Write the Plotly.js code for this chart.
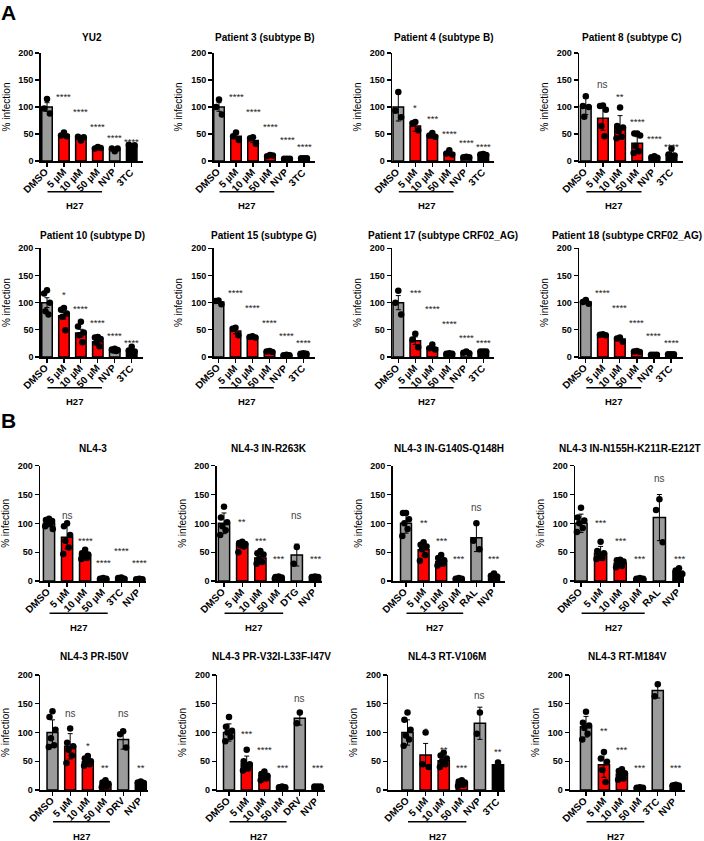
<!DOCTYPE html>
<html><head><meta charset="utf-8">
<script src="https://cdn.plot.ly/plotly-3.0.1.min.js"></script>
<style>html,body{margin:0;padding:0;background:#fff}#chart{width:704px;height:841px}</style>
</head><body><div id="chart"></div>
<script>
// ---------------- DATA ----------------
const panelTitles = [
  'YU2','Patient 3 (subtype B)','Patient 4 (subtype B)','Patient 8 (subtype C)',
  'Patient 10 (subtype D)','Patient 15 (subtype G)','Patient 17 (subtype CRF02_AG)','Patient 18 (subtype CRF02_AG)',
  'NL4-3','NL4-3 IN-R263K','NL4-3 IN-G140S-Q148H','NL4-3 IN-N155H-K211R-E212T',
  'NL4-3 PR-I50V','NL4-3 PR-V32I-L33F-I47V','NL4-3 RT-V106M','NL4-3 RT-M184V'
];
const h27Doses = ['5 µM','10 µM','50 µM'];
const controlLabels = [
  ['NVP','3TC'],['NVP','3TC'],['NVP','3TC'],['NVP','3TC'],
  ['NVP','3TC'],['NVP','3TC'],['NVP','3TC'],['NVP','3TC'],
  ['3TC','NVP'],['DTG','NVP'],['RAL','NVP'],['RAL','NVP'],
  ['DRV','NVP'],['DRV','NVP'],['NVP','3TC'],['3TC','NVP']
];
// bar fill: g = grey control, r = H27, k = black control
const barKinds = [
  'grrrgk','grrrgk','grrrgk','grrrgk','grrrgk','grrrgk','grrrgk','grrrgk',
  'grrrkk','grrrgk','grrrgk','grrrgk','grrrgk','grrrgk','grrrgk','grrrgk'
];
const means = [
  [100,48,43,24,21,29],
  [100,46,38,10,4,5],
  [100,65,47,15,7,12],
  [101,79,62,33,7,12],
  [100,76,44,28,13,12],
  [101,48,37,10,3,6],
  [100,30,17,6,8,10],
  [101,41,33,10,4,5],
  [100,76,45,4,5,3],
  [100,64,40,6,45,7],
  [100,54,34,4,75,9],
  [100,48,31,4,110,17],
  [100,76,49,10,88,12],
  [100,46,25,5,125,6],
  [100,61,51,12,116,44],
  [110,44,28,4,173,8]
];
const errors = [
  [8,3,3,1.5,2.5,1.5],
  [8,5,4,1,0.5,0.5],
  [26,10,5,4,1,1.5],
  [15,22,22,12,2,5],
  [9,6,7,4,1,2.5],
  [2,5,1,1,0.5,0.5],
  [13,7,3,1,1.5,0.5],
  [2,1,3,1,0.5,0.5],
  [6,20,6,1,1,0.5],
  [18,6,9,2,19,1],
  [17,10,7,1,24,3],
  [16,12,6,1,40,5],
  [22,22,8,4,17,2],
  [15,13,6,1,12,0.5],
  [22,20,10,3,28,6],
  [18,22,7,1,13,1]
];
const points = [
  [[115,97,88],[53,47,46],[38,45,44],[26,23,24],[18,23,23],[28,30,29]],
  [[114,100,86],[53,46,39],[44,42,32],[11,9,10],[4,4,4],[5,5,5]],
  [[128,93,81],[72,70,57],[52,47,45],[20,14,12],[8,7,7],[13,12,11]],
  [[120,102,100,82],[103,102,95,65,46],[99,65,62,55,45,42],[51,51,47,28,18,15],[9,7,6,5],[23,12,10,8]],
  [[123,117,100,84,78],[90,87,80,74,49],[65,56,45,40,27],[37,36,33,26,20],[15,14,13,12,11],[19,12,10,8,8]],
  [[104,103,97],[54,52,40],[38,37,36],[11,10,9],[4,3,3],[7,6,6]],
  [[122,100,78],[43,32,18],[23,16,14],[7,6,6],[10,8,7],[10,10,10]],
  [[105,101,98],[42,41,40],[36,34,28],[11,10,9],[4,4,4],[5,5,5]],
  [[108,106,104,101,99,95,90],[100,95,80,70,58,47],[54,48,46,43,40,38],[5,4,4,3],[6,5,4],[4,3,3]],
  [[129,110,102,95,88,80],[68,66,64,62,60,50],[52,48,46,38,33,30],[8,7,6,5,4,4],[59,30],[8,7,7,6]],
  [[118,118,107,100,90,78],[67,63,60,55,45,35],[45,40,36,33,30,27],[5,4,4,3],[100,70,55],[13,9,8,7]],
  [[127,110,105,100,92,85],[68,52,48,45,40,38],[37,36,34,30,26,24],[5,4,4,3],[142,123,67],[22,18,12]],
  [[137,127,105,90,78,75],[107,82,76,70,60,47],[59,55,50,48,45,42],[17,13,11,9,7,5],[102,97,74],[15,13,12,11]],
  [[127,110,103,100,92,85],[70,50,45,42,38,34],[32,28,25,23,20,17],[6,5,5,4],[135,116],[6,6,6]],
  [[135,122,105,95,88,77],[100,45,40],[65,60,55,50,45,40],[17,15,13,11,9,7],[135,98],[48]],
  [[136,117,112,108,98,88],[66,55,49,35,14],[36,33,29,24,20,18],[5,4,4,3],[184,163],[9,8,8,8]]
];
const sigLabels = [
  ['****','****','****','****','****'],
  ['****','****','****','****','****'],
  ['*','***','****','****','****'],
  ['ns','**','****','****','****'],
  ['*','****','****','****','****'],
  ['****','****','****','****','****'],
  ['***','****','****','****','****'],
  ['****','****','****','****','****'],
  ['ns','****','****','****','****'],
  ['**','***','***','ns','***'],
  ['**','***','***','ns','***'],
  ['***','***','***','ns','***'],
  ['ns','*','**','ns','**'],
  ['***','****','***','ns','***'],
  ['*','**','***','ns','**'],
  ['**','***','***','ns','***']
];
const sigHeights = [
  [124,96,68,49,40],
  [124,96,68,45,31],
  [103,84,56,39,32],
  [142,125,77,47,31],
  [120,93,68,44,31],
  [123,96,68,44,31],
  [124,94,67,41,31],
  [124,96,68,44,31],
  [113,74,36,58,36],
  [107,74,44,113,44],
  [105,74,43,128,43],
  [106,74,43,178,43],
  [133,81,43,133,43],
  [103,75,43,159,43],
  [107,75,43,165,71],
  [107,74,43,203,43]
];
const yTicks = [0,50,100,150,200];
const treatmentName = 'H27';
const panelLetters = ['A','B'];

// ---------------- LAYOUT GEOMETRY (pixels) ----------------
const W = 704, H = 841;
const rowY = [[53,161],[248.3,357],[465.7,581],[675,790]];
const titleY = [38,235,448,656.7];
const lineY = [191.7,387.7,613.3,821.7];
const h27Y = [205,401.5,627.3,836.7];
// [axis left, axis right, first bar centre, last bar centre]
const panelX = [
  [40.7,143.3,47,131.7],[213.5,315,219,304],[392,494,398.3,483.3],[579,683,585.8,671.5],
  [40.7,143.3,47,131.7],[213.5,315,218.5,303.5],[392,494,398.3,483.3],[579,683,585.8,671],
  [40,145.5,49,139.3],[216.7,321.7,224,315],[392.7,505,406,494],[575,684,581,679],
  [40,148,52.5,140.8],[217.3,325,229,317.5],[388.3,505,407.5,498],[570,685,586,675.7]
];
const titleCentreOverride = {7: 627};
const colorMap = {g:'#9b9b9b', r:'#ff0000', k:'#000000'};
const FONT = 'Liberation Sans, Arial, sans-serif';
const jitter = [0,-0.17,0.17,-0.09,0.09,-0.21,0.21];

const traces = [];
const layout = {
  width: W, height: H, margin:{l:0,r:0,t:0,b:0},
  paper_bgcolor:'#fff', plot_bgcolor:'rgba(0,0,0,0)',
  showlegend:false,
  font:{family:FONT, color:'#000'},
  annotations:[], shapes:[]
};

for (let i=0;i<16;i++){
  const n = i+1, sfx = n===1?'':String(n);
  const xa = 'x'+sfx, ya = 'y'+sfx;
  const row = Math.floor(i/4);
  const [ax0, ax1, c0, c5] = panelX[i];
  const sp = (c5-c0)/5;
  const lo = (ax0-c0)/sp, hi = 5 + (ax1-c5)/sp;
  const cats = ['DMSO'].concat(h27Doses, controlLabels[i]);
  const cols = barKinds[i].split('').map(k=>colorMap[k]);

  traces.push({
    type:'bar', x:[0,1,2,3,4,5], y:means[i], xaxis:xa, yaxis:ya, width:0.62,
    marker:{color:cols, line:{color:'#000', width:1.5}},
    error_y:{type:'data', array:errors[i], visible:true, color:'#000', thickness:1, width:2.5},
    hoverinfo:'skip'
  });
  const px=[], py=[];
  points[i].forEach((arr,c)=>arr.forEach((v,k)=>{ px.push(c + jitter[k%jitter.length]); py.push(v); }));
  traces.push({
    type:'scatter', mode:'markers', x:px, y:py, xaxis:xa, yaxis:ya,
    marker:{color:'#000', size:6.5}, hoverinfo:'skip', cliponaxis:false
  });

  layout['xaxis'+sfx] = {
    domain:[ax0/W, ax1/W], range:[lo,hi], anchor:ya,
    tickmode:'array', tickvals:[0,1,2,3,4,5], showticklabels:false,
    ticks:'outside', ticklen:4, tickwidth:1.2, tickcolor:'#000',
    showline:true, linewidth:1.5, linecolor:'#000', showgrid:false, zeroline:false,
    fixedrange:true
  };
  layout['yaxis'+sfx] = {
    domain:[1-rowY[row][1]/H, 1-rowY[row][0]/H], range:[0,200], anchor:xa,
    tickmode:'array', tickvals:yTicks, ticktext:yTicks.map(v=>'<b>'+v+'</b>'),
    ticks:'outside', ticklen:4, tickwidth:1.2, tickcolor:'#000',
    showline:true, linewidth:1.5, linecolor:'#000', showgrid:false, zeroline:false,
    tickfont:{family:FONT, size:9, color:'#000'},
    title:{text:'% infection', font:{family:FONT, size:10, color:'#000'}, standoff:6},
    fixedrange:true
  };

  // rotated category labels
  cats.forEach((c,k)=>{
    layout.annotations.push({
      xref:xa, yref:'paper', x:k, y:1-rowY[row][1]/H, xshift:5, yshift:-4,
      text:'<b>'+c+'</b>', textangle:-45, showarrow:false, xanchor:'right', yanchor:'top',
      borderpad:0, font:{family:FONT, size:10, color:'#000'}
    });
  });

  const tc = (titleCentreOverride[i] !== undefined) ? titleCentreOverride[i] : (ax0+ax1)/2;
  layout.annotations.push({
    xref:'paper', yref:'paper', x:tc/W, y:1-titleY[row]/H,
    text:'<b>'+panelTitles[i]+'</b>', showarrow:false, xanchor:'center', yanchor:'middle',
    font:{family:FONT, size:10, color:'#000'}
  });
  sigLabels[i].forEach((s,k)=>{
    const isNs = s==='ns';
    layout.annotations.push({
      xref:xa, yref:ya, x:k+1, y:sigHeights[i][k], text:s, showarrow:false,
      xanchor:'center', yanchor:'middle', yshift: isNs?0:-2.5,
      font:{family:FONT, size: isNs?10:9.5, color: isNs?'#444':'#222'}
    });
  });
  layout.shapes.push({
    type:'line', xref:xa, yref:'paper', x0:0.03, x1:3.25,
    y0:1-lineY[row]/H, y1:1-lineY[row]/H, line:{color:'#000', width:1.5}
  });
  layout.annotations.push({
    xref:xa, yref:'paper', x:1.64, y:1-h27Y[row]/H, text:'<b>'+treatmentName+'</b>',
    showarrow:false, xanchor:'center', yanchor:'middle',
    font:{family:FONT, size:9.5, color:'#000'}
  });
}
layout.annotations.push({xref:'paper', yref:'paper', x:8/W, y:1-12/H, text:'<b>'+panelLetters[0]+'</b>',
  showarrow:false, xanchor:'center', yanchor:'middle', font:{family:FONT, size:21, color:'#000'}});
layout.annotations.push({xref:'paper', yref:'paper', x:8/W, y:1-420/H, text:'<b>'+panelLetters[1]+'</b>',
  showarrow:false, xanchor:'center', yanchor:'middle', font:{family:FONT, size:21, color:'#000'}});

Plotly.newPlot('chart', traces, layout, {staticPlot:true, displayModeBar:false});
</script>
</body></html>
